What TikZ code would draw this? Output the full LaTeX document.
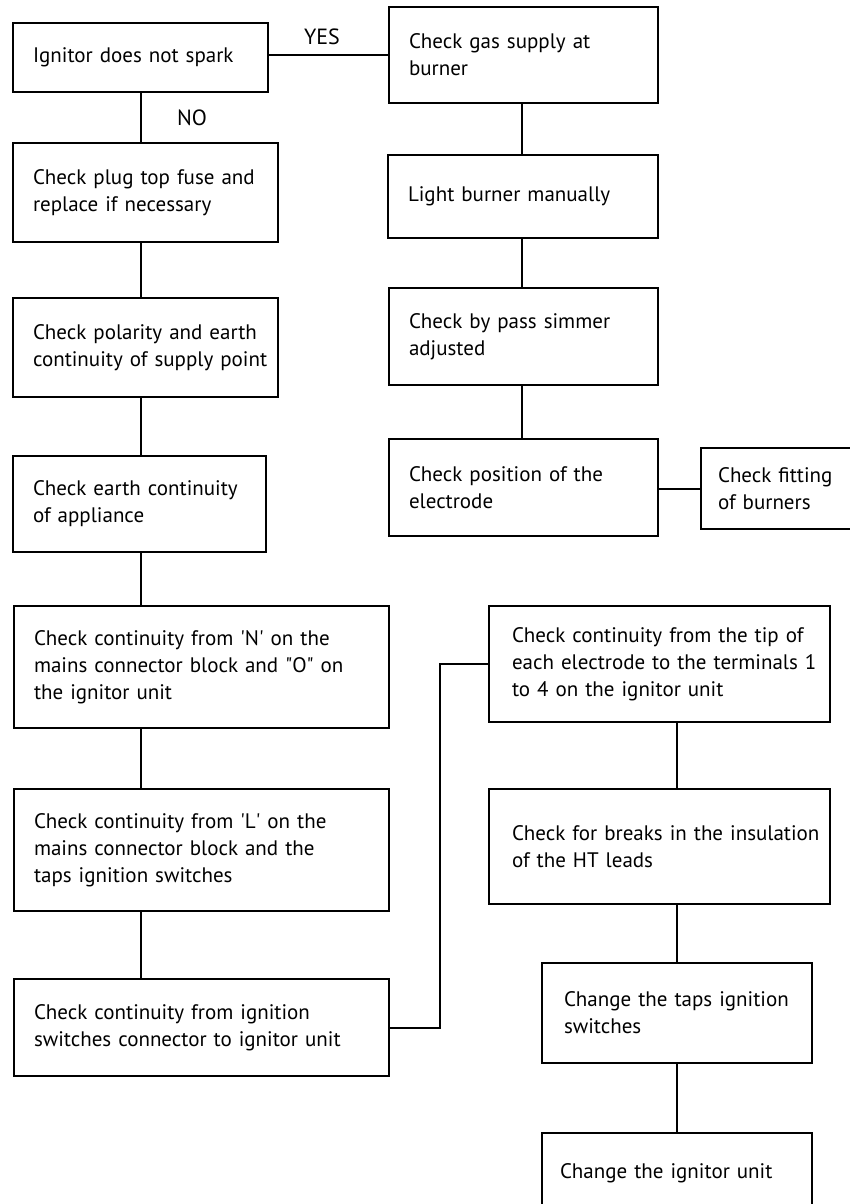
\documentclass[tikz,border=0pt]{standalone}
\usepackage{fontspec}
\setmainfont{PT Sans}
\newcommand{\sq}{\textquotesingle}
\newcommand{\dq}{\textquotedbl}
\begin{document}
\begin{tikzpicture}[x=1pt,y=-1pt,
  bx/.style={draw=black, line width=2pt, inner xsep=20pt, inner ysep=0pt, align=left,
    font=\fontsize{21}{27}\selectfont},
  conn/.style={draw=black, line width=2pt},
  lbl/.style={font=\fontsize{22}{26}\selectfont, inner sep=0pt}]
\useasboundingbox (0,0) rectangle (850,1204);
\clip (0,0) rectangle (850,1204);
% left column
\node[bx, minimum width=255pt, minimum height=69pt, text width=215pt] (B1) at (140.5,57.5) {\mbox{Ignitor does not spark}};
\node[bx, minimum width=265pt, minimum height=99pt, text width=225pt] (B3) at (145.5,192.5) {\mbox{Check plug top fuse and}\\\mbox{replace if necessary}};
\node[bx, minimum width=265pt, minimum height=99pt, text width=225pt] (B5) at (145.5,347.5) {\mbox{Check polarity and earth}\\\mbox{continuity of supply point}};
\node[bx, minimum width=253pt, minimum height=96pt, text width=213pt] (B7) at (139.5,504) {\mbox{Check earth continuity}\\\mbox{of appliance}};
\node[bx, minimum width=375pt, minimum height=122pt, text width=335pt] (B10) at (201.5,667) {\mbox{Check continuity from \sq N\sq{} on the}\\\mbox{mains connector block and \dq O\dq{} on}\\\mbox{the ignitor unit}};
\node[bx, minimum width=375pt, minimum height=122pt, text width=335pt] (B12) at (201.5,850) {\mbox{Check continuity from \sq L\sq{} on the}\\\mbox{mains connector block and the}\\\mbox{taps ignition switches}};
\node[bx, minimum width=375pt, minimum height=97pt, text width=335pt] (B14) at (201.5,1027.5) {\mbox{Check continuity from ignition}\\\mbox{switches connector to ignitor unit}};
% right column
\node[bx, minimum width=269pt, minimum height=96pt, text width=229pt] (B2) at (523.5,55) {\mbox{Check gas supply at}\\\mbox{burner}};
\node[bx, minimum width=270pt, minimum height=83pt, text width=230pt] (B4) at (523,196.5) {\mbox{Light burner manually}};
\node[bx, minimum width=269pt, minimum height=97pt, text width=229pt] (B6) at (523.5,336.5) {\mbox{Check by pass simmer}\\\mbox{adjusted}};
\node[bx, minimum width=269pt, minimum height=97pt, text width=229pt] (B8) at (523.5,487.5) {\mbox{Check position of the}\\\mbox{electrode}};
\node[bx, minimum width=169pt, minimum height=81pt, text width=135pt, inner xsep=17pt] (B9) at (785.5,488.5) {\mbox{Check fitting}\\\mbox{of burners}};
\node[bx, minimum width=341pt, minimum height=116pt, text width=295pt, inner xsep=23pt] (B11) at (659.5,664) {\mbox{Check continuity from the tip of}\\\mbox{each electrode to the terminals 1}\\\mbox{to 4 on the ignitor unit}};
\node[bx, minimum width=341pt, minimum height=115pt, text width=295pt, inner xsep=23pt] (B13) at (659.5,846.5) {\mbox{Check for breaks in the insulation}\\\mbox{of the HT leads}};
\node[bx, minimum width=270pt, minimum height=100pt, text width=226pt, inner xsep=22pt] (B15) at (677,1013) {\mbox{Change the taps ignition}\\\mbox{switches}};
\node[bx, minimum width=270pt, minimum height=80pt, text width=234pt, inner xsep=18pt] (B16) at (677,1173) {\mbox{Change the ignitor unit}};
% labels
\node[lbl] (yes) at (322,37) {YES};
\node[lbl] (no) at (192,118) {NO};
% helper coordinates
\coordinate (lx) at (141,0);
\coordinate (rx) at (522,0);
\coordinate (jx) at (440,850);
% connectors
\draw[conn] (B2.west -| B1.east) -- (B2.west);
\draw[conn] (B1.south -| lx) -- (B3.north -| lx);
\draw[conn] (B3.south -| lx) -- (B5.north -| lx);
\draw[conn] (B5.south -| lx) -- (B7.north -| lx);
\draw[conn] (B7.south -| lx) -- (B10.north -| lx);
\draw[conn] (B10.south -| lx) -- (B12.north -| lx);
\draw[conn] (B12.south -| lx) -- (B14.north -| lx);
\draw[conn] (B2.south -| rx) -- (B4.north -| rx);
\draw[conn] (B4.south -| rx) -- (B6.north -| rx);
\draw[conn] (B6.south -| rx) -- (B8.north -| rx);
\draw[conn] (B9.west -| B8.east) -- (B9.west);
\draw[conn] (B14.east) -| (jx) |- (B11.west);
\draw[conn] (B11.south -| B15.south) -- (B13.north -| B15.south);
\draw[conn] (B13.south -| B15.south) -- (B15.north);
\draw[conn] (B15.south) -- (B16.north);
\end{tikzpicture}
\end{document}
